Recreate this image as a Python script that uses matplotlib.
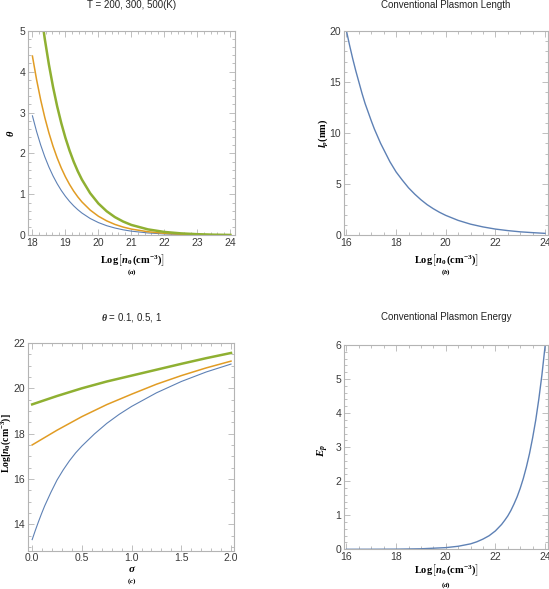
import numpy as np
import matplotlib
matplotlib.use("Agg")
import matplotlib.pyplot as plt
from matplotlib.ticker import MultipleLocator, FormatStrFormatter

# ---------------------------------------------------------------------------
# data
# ---------------------------------------------------------------------------
# (a) theta vs Log[n0], T = 200, 300, 500 K
logn_a = [18.0, 18.125, 18.25, 18.375, 18.5, 18.625, 18.75, 18.875, 19.0,
          19.125, 19.25, 19.375, 19.5, 19.75, 20.0, 20.25, 20.5, 20.75,
          21.0, 21.5, 22.0, 22.5, 23.0, 23.5, 24.0]
theta_200 = [2.92, 2.539, 2.207, 1.918, 1.668, 1.450, 1.261, 1.096, 0.953,
             0.828, 0.720, 0.626, 0.544, 0.411, 0.311, 0.235, 0.178, 0.134,
             0.101, 0.058, 0.033, 0.019, 0.011, 0.006, 0.004]
theta_300 = [4.38, 3.808, 3.310, 2.878, 2.502, 2.175, 1.891, 1.644, 1.429,
             1.243, 1.080, 0.939, 0.816, 0.617, 0.466, 0.353, 0.266, 0.201,
             0.152, 0.087, 0.049, 0.028, 0.016, 0.009, 0.005]
theta_500 = [7.30, 6.347, 5.517, 4.796, 4.170, 3.625, 3.151, 2.740, 2.382,
             2.071, 1.800, 1.565, 1.361, 1.029, 0.777, 0.588, 0.444, 0.336,
             0.253, 0.145, 0.082, 0.047, 0.027, 0.015, 0.009]

# (b) conventional plasmon length (nm)
logn_b = [16.0, 16.125, 16.25, 16.375, 16.5, 16.625, 16.75, 16.875, 17.0,
          17.125, 17.25, 17.375, 17.5, 17.625, 17.75, 17.875, 18.0, 18.25,
          18.5, 18.75, 19.0, 19.25, 19.5, 19.75, 20.0, 20.5, 21.0, 21.5,
          22.0, 22.5, 23.0, 23.5, 24.0]
lp_nm = [20.0, 18.6, 17.3, 16.1, 15.0, 13.9, 12.9, 12.05, 11.2,
         10.4, 9.7, 9.0, 8.4, 7.8, 7.2, 6.7, 6.2, 5.4,
         4.65, 4.03, 3.48, 3.0, 2.6, 2.25, 1.95, 1.46, 1.09, 0.82,
         0.61, 0.46, 0.34, 0.26, 0.19]

# (c) Log[n0] vs sigma, theta = 0.1, 0.5, 1
sigma_blue = [0.0, 0.03125, 0.0625, 0.09375, 0.125, 0.1875, 0.25, 0.3125,
              0.375, 0.4375, 0.5, 0.625, 0.75, 0.875, 1.0, 1.25, 1.5, 1.75,
              2.0]
logn_t01 = [13.32, 13.72, 14.1, 14.46, 14.8, 15.4, 15.95, 16.4,
            16.8, 17.15, 17.45, 17.98, 18.45, 18.85, 19.2, 19.8, 20.3, 20.72,
            21.07]
sigma_c = [0.0, 0.25, 0.5, 0.75, 1.0, 1.25, 1.5, 1.75, 2.0]
logn_t05 = [17.5, 18.15, 18.75, 19.28, 19.74, 20.18, 20.56, 20.9, 21.2]
logn_t1 = [19.29, 19.66, 20.0, 20.3, 20.56, 20.82, 21.08, 21.33, 21.56]

# (d) conventional plasmon energy
logn_d = [16.0, 17.0, 18.0, 19.0, 20.0, 20.5, 21.0, 21.25, 21.5, 21.75,
          22.0, 22.25, 22.375, 22.5, 22.625, 22.75, 22.875, 23.0, 23.125,
          23.25, 23.375, 23.5, 23.625, 23.75, 23.875, 24.0]
ep = [0.0004, 0.0013, 0.0045, 0.015, 0.049, 0.089, 0.16, 0.22, 0.30, 0.40,
      0.54, 0.73, 0.85, 0.98, 1.14, 1.33, 1.54, 1.79, 2.08,
      2.42, 2.81, 3.27, 3.79, 4.41, 5.12, 5.95]

# ---------------------------------------------------------------------------
W, H = 549, 589
BLUE, ORANGE, GREEN = "#5E81B5", "#E19C24", "#8FB032"
FRAME = "#b4b4b4"
TXT = "#3a3a3a"

plt.rcParams["font.family"] = ["Liberation Sans", "DejaVu Sans"]
plt.rcParams["mathtext.fontset"] = "custom"
plt.rcParams["mathtext.rm"] = "Liberation Serif:bold"
plt.rcParams["mathtext.it"] = "Liberation Serif:italic:bold"
plt.rcParams["mathtext.bf"] = "Liberation Serif:bold"


def rect(x0, y0, x1, y1):
    # pixel box (top-left origin) -> figure fraction
    return [x0 / W, 1 - y1 / H, (x1 - x0) / W, (y1 - y0) / H]


def fig_text(x, y, s, **kw):
    fig.text(x / W, 1 - y / H, s, ha="center", va="center", **kw)


def style(ax, xmaj, xmin, ymaj, ymin):
    for sp in ax.spines.values():
        sp.set_color(FRAME)
        sp.set_linewidth(0.8)
    ax.xaxis.set_major_locator(MultipleLocator(xmaj))
    ax.xaxis.set_minor_locator(MultipleLocator(xmin))
    ax.yaxis.set_major_locator(MultipleLocator(ymaj))
    ax.yaxis.set_minor_locator(MultipleLocator(ymin))
    ax.tick_params(which="both", direction="in", top=True, right=True,
                   color=FRAME, width=0.6, labelsize=7.5, labelcolor=TXT,
                   pad=2)
    ax.tick_params(which="major", length=4)
    ax.tick_params(which="minor", length=2)


fig = plt.figure(figsize=(W / 100, H / 100), dpi=100)

LOGN = r"$\mathrm{Log}\left[n_0\,(\mathrm{cm}^{-3})\right]$"
TITLE_KW = dict(fontsize=7, color="#222222")

# (a)
ax = fig.add_axes(rect(28.3, 30.7, 235, 235.3))
ax.plot(logn_a, theta_200, color=BLUE, lw=0.8)
ax.plot(logn_a, theta_300, color=ORANGE, lw=1.1)
ax.plot(logn_a, theta_500, color=GREEN, lw=1.8)
ax.set_xlim(17.875, 24.14)
ax.set_ylim(0, 5)
style(ax, 1, 0.2, 1, 0.2)
fig_text(131.5, 5, "T = 200, 300, 500(K)", **TITLE_KW)
fig_text(10, 133, r"$\theta$", fontsize=7.5, rotation=90)
fig_text(132, 260, LOGN, fontsize=7.5)
fig_text(132, 272, r"$(a)$", fontsize=5)

# (b)
ax = fig.add_axes(rect(344, 31, 547.5, 235.3))
ax.plot(logn_b, lp_nm, color=BLUE, lw=1.0)
ax.set_xlim(15.9, 24.1)
ax.set_ylim(0, 20)
style(ax, 2, 0.5, 5, 1)
fig_text(446, 5, "Conventional Plasmon Length", **TITLE_KW)
fig_text(323, 133, r"$l_p\mathrm{(nm)}$", fontsize=7.5, rotation=90)
fig_text(446, 260, LOGN, fontsize=7.5)
fig_text(446, 272, r"$(b)$", fontsize=5)

# (c)
ax = fig.add_axes(rect(27.7, 343, 234, 550.7))
ax.plot(sigma_blue, logn_t01, color=BLUE, lw=0.8)
ax.plot(sigma_c, logn_t05, color=ORANGE, lw=1.1)
ax.plot(sigma_c, logn_t1, color=GREEN, lw=1.8)
ax.set_xlim(-0.045, 2.03)
ax.set_ylim(12.83, 22)
ax.xaxis.set_major_formatter(FormatStrFormatter("%.1f"))
style(ax, 0.5, 0.1, 2, 0.5)
fig_text(131.5, 317, r"$\theta$ = 0.1, 0.5, 1", **TITLE_KW)
fig_text(6.5, 443, r"$\mathrm{Log}[n_0(\mathrm{cm}^{-3})]$",
         fontsize=7, rotation=90)
fig_text(132, 569, r"$\sigma$", fontsize=8)
fig_text(132, 581, r"$(c)$", fontsize=5)

# (d)
ax = fig.add_axes(rect(344, 345, 547.5, 549.3))
ax.plot(logn_d, ep, color=BLUE, lw=1.0)
ax.set_xlim(15.9, 24.1)
ax.set_ylim(0, 6)
style(ax, 2, 0.5, 1, 0.2)
fig_text(446, 317, "Conventional Plasmon Energy", **TITLE_KW)
fig_text(323, 450, r"$E_p$", fontsize=8, rotation=90)
fig_text(446, 570, LOGN, fontsize=7.5)
fig_text(446, 585, r"$(d)$", fontsize=5)

fig.savefig("out.png", dpi=100)
